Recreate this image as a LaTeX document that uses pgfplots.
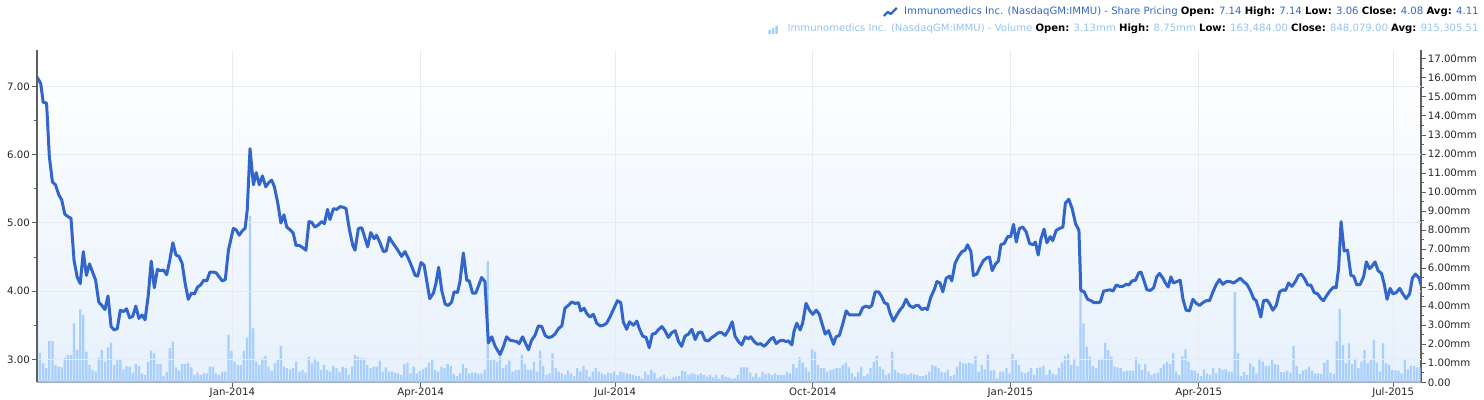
\documentclass[border=0pt]{standalone}
\usepackage{fontspec}
\setmainfont{DejaVu Sans}
\usepackage{pgfplots}
\pgfplotsset{compat=1.18}
\usepackage{pgfplotstable}

\definecolor{linecol}{RGB}{51,102,204}
\definecolor{barcol}{RGB}{168,207,253}
\definecolor{voltext}{RGB}{150,196,242}
\definecolor{bgbot}{RGB}{231,241,252}
\definecolor{gridcol}{RGB}{234,235,241}
\definecolor{axcol}{RGB}{95,95,95}

% daily volume (mm), one row per trading day
\pgfplotstableread[row sep=\\]{vol\\
3.10\\1.56\\1.00\\0.74\\2.17\\2.17\\0.91\\0.82\\0.79\\1.30\\
1.44\\1.44\\3.10\\1.70\\3.84\\3.54\\1.61\\0.91\\0.65\\0.56\\
1.30\\1.70\\1.09\\1.84\\2.09\\0.91\\1.21\\1.23\\0.68\\0.86\\
0.82\\0.51\\0.96\\0.86\\0.47\\0.39\\1.09\\1.66\\1.52\\0.96\\
0.96\\0.33\\0.53\\1.79\\2.14\\0.79\\0.61\\0.96\\0.96\\1.03\\
0.79\\0.39\\0.51\\0.39\\0.47\\0.47\\0.82\\0.82\\0.47\\0.39\\
0.56\\0.56\\2.49\\1.65\\1.09\\0.91\\0.91\\1.65\\2.35\\8.75\\
2.84\\1.09\\0.91\\1.26\\1.38\\0.82\\0.60\\1.00\\1.17\\1.91\\
0.82\\0.74\\0.68\\0.74\\1.09\\0.56\\0.65\\0.51\\1.35\\1.00\\
1.26\\1.09\\0.65\\0.91\\0.65\\0.56\\0.86\\0.74\\0.56\\0.82\\
0.74\\0.39\\0.82\\1.44\\1.35\\1.26\\1.26\\0.91\\0.74\\0.82\\
0.82\\1.14\\0.56\\0.79\\0.56\\0.56\\0.51\\0.47\\0.39\\0.96\\
1.03\\0.47\\0.82\\0.47\\0.61\\0.68\\0.79\\1.03\\1.21\\0.65\\
0.56\\0.82\\0.74\\0.96\\0.86\\0.44\\0.33\\0.47\\0.96\\0.74\\
0.47\\0.51\\0.51\\0.44\\0.47\\0.65\\6.38\\1.17\\1.17\\1.09\\
1.35\\0.74\\0.91\\1.14\\0.56\\0.65\\0.65\\1.44\\0.96\\0.65\\
0.65\\1.09\\0.56\\1.66\\0.86\\0.39\\0.47\\1.52\\0.74\\0.56\\
0.47\\0.39\\0.61\\0.47\\0.33\\0.74\\0.56\\0.86\\0.65\\0.30\\
0.56\\0.74\\0.56\\0.47\\0.39\\0.51\\0.47\\0.56\\0.39\\0.56\\
0.51\\0.47\\0.44\\0.39\\0.33\\0.33\\0.21\\0.56\\0.39\\0.65\\
0.51\\0.21\\0.30\\0.39\\0.21\\0.16\\0.26\\0.30\\0.33\\0.61\\
0.56\\0.39\\0.47\\0.44\\0.39\\0.47\\0.39\\0.30\\0.39\\0.26\\
0.39\\0.16\\0.39\\0.30\\0.26\\0.16\\0.21\\0.39\\0.79\\0.79\\
0.79\\0.51\\0.30\\0.47\\0.26\\0.56\\0.44\\0.47\\0.39\\0.47\\
0.39\\0.39\\0.39\\0.56\\0.47\\0.96\\0.74\\1.31\\1.03\\0.79\\
0.56\\1.73\\1.61\\0.91\\0.74\\0.74\\0.56\\0.65\\0.68\\0.74\\
0.74\\0.91\\1.03\\0.79\\0.47\\0.30\\0.56\\0.82\\0.33\\0.44\\
0.74\\1.09\\1.38\\0.82\\0.68\\0.39\\0.47\\1.61\\0.65\\0.51\\
0.44\\0.47\\0.39\\0.47\\0.44\\0.39\\0.33\\0.33\\0.39\\0.56\\
0.91\\0.86\\0.74\\0.56\\0.51\\0.65\\0.33\\0.39\\0.82\\1.09\\
1.00\\1.00\\1.03\\0.96\\1.38\\0.56\\0.91\\0.68\\1.45\\0.61\\
0.65\\0.21\\0.56\\0.56\\0.74\\0.47\\1.49\\1.17\\0.91\\0.56\\
0.47\\0.56\\0.74\\0.39\\0.74\\0.79\\0.86\\0.39\\0.65\\0.47\\
0.39\\0.74\\1.03\\1.38\\1.49\\0.91\\1.26\\0.86\\6.61\\3.10\\
1.88\\1.35\\0.86\\0.74\\1.17\\1.26\\2.09\\1.70\\1.35\\0.82\\
0.79\\0.74\\0.56\\0.61\\0.61\\0.61\\1.31\\0.96\\0.65\\0.96\\
0.56\\0.39\\0.47\\0.51\\0.74\\0.96\\1.09\\0.96\\1.52\\0.56\\
0.39\\1.35\\1.73\\1.09\\0.65\\0.61\\0.47\\0.33\\0.68\\0.47\\
0.39\\0.74\\0.47\\0.74\\0.65\\0.68\\0.56\\0.56\\4.73\\1.52\\
0.33\\0.53\\0.39\\1.00\\0.82\\0.47\\1.26\\1.09\\0.86\\0.86\\
1.23\\0.96\\0.91\\0.53\\0.53\\0.61\\0.51\\1.91\\0.86\\0.44\\
0.61\\0.68\\0.82\\0.61\\0.47\\0.47\\0.44\\1.03\\1.21\\0.51\\
0.44\\2.17\\3.84\\1.96\\1.00\\2.05\\0.96\\1.26\\0.74\\1.09\\
1.70\\1.00\\1.17\\2.23\\1.03\\0.56\\2.05\\1.00\\0.91\\0.65\\
0.61\\0.61\\0.47\\1.17\\0.68\\0.86\\0.86\\0.79\\0.79\\
}\volume

% share price (x = trading day index)
\pgfplotstableread{
x price
0 7.14
1.2 7.05
2 6.77
3.1 6.76
4 5.97
5 5.60
6 5.56
7.1 5.41
8 5.34
9 5.13
10.1 5.09
11 5.07
12 4.45
13 4.21
14 4.11
15 4.58
16 4.23
17 4.40
18 4.28
19 4.16
20 3.84
21 3.79
22 3.73
23 3.93
24 3.48
25 3.43
26 3.45
27 3.72
28 3.70
29 3.74
30 3.61
31 3.63
32 3.78
33 3.60
34 3.65
35 3.58
36 3.92
37 4.44
38 4.05
39 4.32
40 4.30
41 4.31
42 4.24
43 4.45
44 4.71
45 4.53
46 4.51
47 4.41
48 4.11
49 3.88
50 3.97
51 3.96
52 4.06
53 4.09
54 4.16
55 4.15
56 4.28
57 4.28
58 4.27
59 4.21
60 4.15
61 4.17
62 4.60
63.6 4.92
64.5 4.90
65.5 4.82
66.6 4.89
67.4 4.92
68.1 5.19
69 6.09
70.1 5.56
71 5.74
72 5.56
73 5.69
74.1 5.53
75 5.59
76 5.63
76.9 5.53
78 5.29
79 5.00
80 5.12
80.9 4.94
82 4.90
83 4.85
83.9 4.67
85 4.67
86 4.64
87.1 4.60
88.1 5.02
89 5.01
90 4.94
91.1 4.97
92.2 5.02
93.1 4.99
94.1 5.20
94.9 5.05
96 5.21
97.1 5.20
98.2 5.24
99.2 5.23
100.1 5.21
101.2 4.90
102.3 4.67
103 4.60
104.1 4.92
105.2 4.93
106.3 4.77
107.1 4.65
108.1 4.86
109.2 4.77
110 4.82
111.1 4.71
112.2 4.58
113.1 4.59
114.1 4.79
115.2 4.71
116.3 4.64
117 4.59
118.1 4.51
119.2 4.58
120.3 4.48
121.4 4.36
122.5 4.23
123.3 4.22
124.4 4.42
125.4 4.38
126.2 4.16
127.2 3.89
128.4 3.97
129.2 4.11
130.1 4.35
131.1 4.01
132.2 3.81
133.2 3.79
134.3 3.84
135.1 3.99
136.2 3.98
137 4.14
138.1 4.56
139.2 4.16
140 4.15
141.1 3.97
142.1 3.97
143.2 4.10
144 4.20
145.1 4.14
146.2 3.24
147.3 3.33
148.4 3.19
150 3.07
151.1 3.19
152.1 3.33
153.2 3.28
154.3 3.27
155.4 3.26
156.2 3.23
157.3 3.33
158.3 3.23
159.2 3.14
160.2 3.28
161.3 3.35
162.4 3.49
163.5 3.48
164.6 3.35
165.6 3.32
166.7 3.33
167.8 3.37
168.9 3.45
170 3.49
171 3.75
172.1 3.79
173.2 3.84
174.3 3.82
175.4 3.83
176.1 3.71
177.2 3.75
178.1 3.67
179.1 3.62
180.2 3.66
181.3 3.53
182.4 3.49
183.5 3.50
184.5 3.53
185.6 3.62
186.7 3.73
188 3.86
189.1 3.83
189.9 3.55
191 3.44
191.9 3.55
193.2 3.50
194.3 3.56
195.1 3.45
196.2 3.34
197.3 3.32
198.3 3.17
199.3 3.37
200.3 3.38
201.4 3.44
202.4 3.48
203.4 3.42
204.5 3.32
205.6 3.39
206.7 3.42
207.8 3.26
208.8 3.19
209.9 3.34
211 3.37
212.1 3.44
213.2 3.29
214.2 3.39
215.3 3.40
216.4 3.28
217.5 3.27
218.6 3.32
219.6 3.35
220.7 3.39
221.8 3.39
222.9 3.35
224 3.43
225.2 3.55
226.1 3.34
227.2 3.26
228.3 3.21
229.4 3.33
230.4 3.30
231.2 3.33
232.3 3.26
233.4 3.22
234.4 3.23
235.5 3.19
236.6 3.24
237.7 3.30
238.5 3.32
239.4 3.23
240.5 3.27
241.6 3.28
242.6 3.26
243.4 3.27
244.5 3.21
245.2 3.41
246.1 3.53
247.2 3.43
248 3.53
249.1 3.82
250.2 3.72
251.3 3.66
252.4 3.72
253.4 3.66
254.5 3.49
255.3 3.37
256.4 3.42
258 3.22
258.8 3.33
259.9 3.35
261 3.52
262.1 3.71
263.2 3.65
264.2 3.65
265.3 3.65
266.4 3.65
267.5 3.76
268.6 3.78
269.6 3.76
270.4 3.79
271.5 3.99
272.6 3.99
273.6 3.92
274.5 3.83
275.5 3.81
276.3 3.68
277.4 3.56
278.5 3.65
279.6 3.73
280.4 3.77
281.5 3.88
282.6 3.79
283.7 3.76
284.8 3.79
285.5 3.79
286.6 3.73
287.7 3.75
288.4 3.73
289.5 3.91
290.6 4.02
291.5 4.14
292.5 4.12
293.4 3.99
294.5 4.19
295.6 4.22
296.3 4.15
297.4 4.41
298.5 4.51
299.6 4.58
300.6 4.60
301.4 4.68
302.5 4.58
303.3 4.23
304.4 4.25
305.5 4.36
306.6 4.45
307.7 4.49
308.5 4.50
309.4 4.30
310.5 4.40
311.4 4.44
312.2 4.68
313.3 4.70
314.4 4.80
315.4 4.80
316.3 4.98
317.2 4.72
318.2 4.92
319.3 4.94
320.4 4.87
321.5 4.70
322.6 4.68
323.4 4.72
324.3 4.53
325.2 4.77
326.2 4.91
327.1 4.71
328.2 4.80
329 4.74
330.1 4.89
331.2 4.92
332.3 4.94
333.1 5.29
334.2 5.35
335.3 5.21
336.4 4.99
337.5 4.89
338.1 4.01
339.2 3.99
340.3 3.88
341.4 3.86
342.4 3.83
343.5 3.83
344.4 3.84
345.5 4.00
346.5 4.01
347.6 4.02
348.5 4.00
349.6 4.09
350.6 4.07
351.7 4.07
352.8 4.10
353.7 4.09
354.7 4.15
355.8 4.16
356.9 4.27
357.6 4.28
358.6 4.15
359.5 4.02
360.6 4.01
361.7 4.05
362.7 4.21
363.6 4.26
364.7 4.19
365.5 4.12
366.4 4.06
367.3 4.21
368.1 4.12
369.2 4.14
370.3 4.16
371.2 3.88
372.2 3.72
373.3 3.71
374.4 3.88
375.5 3.82
376.6 3.79
377.6 3.83
378.7 3.86
379.8 3.86
380.9 3.99
382 4.10
383 4.17
384.1 4.10
385.2 4.14
386.5 4.14
387.6 4.12
388.9 4.16
389.7 4.19
390.8 4.14
391.9 4.10
393 4.01
394.1 3.89
394.9 3.86
395.7 3.74
396.4 3.62
397.3 3.86
398.4 3.87
399.2 3.82
400.3 3.72
401.4 3.79
402.5 3.99
403.6 4.02
404.4 4.01
405.4 4.12
406.5 4.07
407.6 4.14
408.6 4.23
409.5 4.25
410.5 4.19
411.6 4.09
412.6 4.09
413.7 3.98
414.8 3.96
415.9 3.89
416.7 3.86
417.8 3.94
418.9 4.01
420 4.06
420.8 4.05
421.6 4.33
422.4 5.02
423.4 4.59
424.5 4.60
425.6 4.23
426.5 4.22
427.5 4.09
428.6 4.10
429.7 4.21
430.6 4.43
431.6 4.33
432.5 4.37
433.4 4.43
434.4 4.30
435.5 4.26
436.4 4.10
437.3 3.88
438.3 4.04
439.2 3.96
440.3 3.98
441.4 4.04
442.4 3.96
443.5 3.89
444.6 3.96
445.5 4.19
446.5 4.25
447.6 4.20
448.4 4.08
}\price

\begin{document}
\begin{tikzpicture}[x=0.5pt,y=0.5pt]
\path[use as bounding box] (0,0) rectangle (1484,400);

% volume (right axis), drawn first so it sits behind the price line
\begin{axis}[
  at={(18.5pt,8.85pt)}, anchor=south west,
  scale only axis, width=691.85pt, height=166.15pt,
  xmin=0, xmax=448.2, ymin=0, ymax=17.47,
  axis background/.style={top color=white, bottom color=bgbot},
  axis x line*=bottom, axis y line*=right,
  axis line style={-},
  x axis line style={draw=gray!75, line width=1pt},
  y axis line style={draw=axcol, line width=1pt},
  tick align=outside,
  major tick length=2.5pt, minor tick length=1.5pt,
  tick style={axcol, line width=0.5pt},
  xtick={63.3,124.3,187.3,251.3,315.3,376.3,439.3},
  xticklabels={Jan-2014,Apr-2014,Jul-2014,Oct-2014,Jan-2015,Apr-2015,Jul-2015},
  xmajorgrids, x grid style={gridcol, line width=0.5pt},
  ytick={0,1,...,17},
  yticklabels={0.00,1.00mm,2.00mm,3.00mm,4.00mm,5.00mm,6.00mm,7.00mm,8.00mm,9.00mm,10.00mm,11.00mm,12.00mm,13.00mm,14.00mm,15.00mm,16.00mm,17.00mm},
  minor y tick num=1,
  tick label style={font=\fontsize{5.1}{6}\selectfont, text=black!85},
  yticklabel style={xshift=-2.5pt},
  xticklabel style={inner sep=0.5pt, yshift=0.5pt},
]
\addplot[ybar, bar width=1.15pt, fill=barcol, draw=none]
  table[x expr=\coordindex, y=vol] {\volume};
\end{axis}

% share price (left axis)
\begin{axis}[
  at={(18.5pt,8.85pt)}, anchor=south west,
  scale only axis, width=691.85pt, height=166.15pt,
  xmin=0, xmax=448.2, ymin=2.6625, ymax=7.5385,
  axis x line=none, axis y line*=left,
  axis line style={-},
  y axis line style={draw=axcol, line width=0.7pt},
  tick align=outside,
  major tick length=2.5pt, minor tick length=1.5pt,
  tick style={axcol, line width=0.5pt},
  ytick={3,4,5,6,7},
  yticklabels={3.00,4.00,5.00,6.00,7.00},
  minor y tick num=1,
  ymajorgrids, y grid style={gridcol, line width=0.5pt},
  tick label style={font=\fontsize{5.1}{6}\selectfont, text=black!85},
  yticklabel style={xshift=2.5pt},
]
\addplot[linecol, line width=1.5pt, line join=round] table[x=x, y=price] {\price};
\end{axis}

% legend text
\node[anchor=east, inner sep=0pt, font=\fontsize{5.05}{6}\selectfont] (l1) at (1479,388)
  {\textcolor{linecol}{Immunomedics Inc. (NasdaqGM:IMMU) - Share Pricing} \textbf{Open:} \textcolor{linecol}{7.14} \textbf{High:} \textcolor{linecol}{7.14} \textbf{Low:} \textcolor{linecol}{3.06} \textbf{Close:} \textcolor{linecol}{4.08} \textbf{Avg:} \textcolor{linecol}{4.11}};
\node[anchor=east, inner sep=0pt, font=\fontsize{5.05}{6}\selectfont] (l2) at (1479,371)
  {\textcolor{voltext}{Immunomedics Inc. (NasdaqGM:IMMU) - Volume} \textbf{Open:} \textcolor{voltext}{3.13mm} \textbf{High:} \textcolor{voltext}{8.75mm} \textbf{Low:} \textcolor{voltext}{163,484.00} \textbf{Close:} \textcolor{voltext}{848,079.00} \textbf{Avg:} \textcolor{voltext}{915,305.51}};
% legend icons
\draw[linecol, line width=1.2pt, line join=round, shift={(l1.west)}]
  (-20,-4) -- (-16,0) -- (-13,-2) -- (-7,4);
\fill[barcol, shift={(l2.west)}]
  (-19,-5) rectangle (-16.5,-1) (-15.5,-5) rectangle (-13,1) (-12,-5) rectangle (-9.5,3);
\end{tikzpicture}
\end{document}
